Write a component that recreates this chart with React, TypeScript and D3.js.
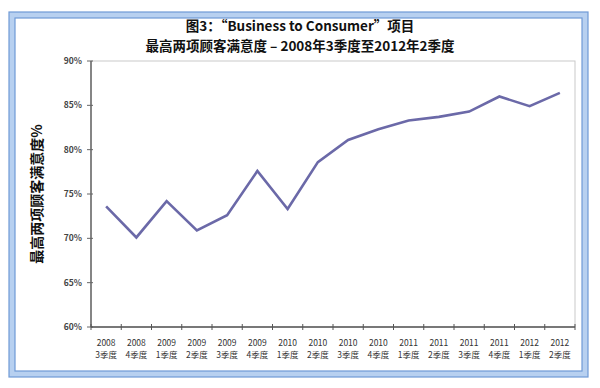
import React from 'react';
import * as d3 from 'd3';

// chart data
const years = ['2008', '2008', '2009', '2009', '2009', '2009', '2010', '2010', '2010', '2010', '2011', '2011', '2011', '2011', '2012', '2012'];
const quarters = ['3季度', '4季度', '1季度', '2季度', '3季度', '4季度', '1季度', '2季度', '3季度', '4季度', '1季度', '2季度', '3季度', '4季度', '1季度', '2季度'];
const satisfaction = [73.6, 70.1, 74.2, 70.9, 72.6, 77.6, 73.3, 78.6, 81.1, 82.3, 83.3, 83.7, 84.3, 86.0, 84.9, 86.4];
const yTicks = [60, 65, 70, 75, 80, 85, 90];

const titleLine1 = '图3：“Business to Consumer”项目';
const titleLine2 = '最高两项顾客满意度 – 2008年3季度至2012年2季度';
const yTitle = '最高两项顾客满意度%';

const W = 600;
const H = 388;
const margin = { top: 61, right: 25, bottom: 61, left: 91 };
const font = '"Noto Sans CJK SC", "Noto Sans", sans-serif';

const App = () => {
  const innerW = W - margin.left - margin.right;
  const innerH = H - margin.top - margin.bottom;

  const keys = years.map((y, i) => `${y}-${quarters[i]}-${i}`);
  const x = d3.scaleBand().domain(keys).range([0, innerW]);
  const y = d3.scaleLinear().domain([60, 90]).range([innerH, 0]);

  const line = d3.line<number>()
    .x((_, i) => (x(keys[i]) as number) + x.bandwidth() / 2)
    .y(d => y(d));

  // tick marks on the x axis sit between categories
  const xTickPos = d3.range(keys.length + 1).map(i => i * x.step());

  return (
    <div style={{ margin: -8 }}>
      <svg width={W} height={H} style={{ display: 'block', background: '#fff' }}>
        {/* blue frame */}
        <rect x={12} y={15} width={573} height={359} fill="none" stroke="#b7d0f0" strokeWidth={6} />
        <rect x={9} y={12} width={579} height={365} fill="none" stroke="#6f9ad6" strokeWidth={1.2} />
        <rect x={15} y={18} width={567} height={353} fill="none" stroke="#6f9ad6" strokeWidth={1.2} />

        {/* title */}
        <text x={W / 2} y={31} textAnchor="middle" fontFamily={font} fontWeight="bold" fontSize={13.5} fill="#111">{titleLine1}</text>
        <text x={W / 2} y={51} textAnchor="middle" fontFamily={font} fontWeight="bold" fontSize={13.5} fill="#111">{titleLine2}</text>

        {/* y axis title */}
        <text transform={`translate(42,${margin.top + innerH / 2}) rotate(-90)`} textAnchor="middle"
          fontFamily={font} fontWeight="bold" fontSize={14} fill="#111">{yTitle}</text>

        <g transform={`translate(${margin.left},${margin.top})`}>
          {/* plot area border */}
          <rect x={0} y={0} width={innerW} height={innerH} fill="none" stroke="#c9c9c9" strokeWidth={1} />

          {/* y axis */}
          <line x1={0} x2={0} y1={0} y2={innerH} stroke="#666" strokeWidth={1.5} />
          {yTicks.map(t => (
            <g key={t} transform={`translate(0,${y(t)})`}>
              <line x1={-4} x2={2} stroke="#666" strokeWidth={1} />
              <text x={-9} dy="0.35em" textAnchor="end" fontFamily={font} fontWeight="bold" fontSize={8.5} fill="#444">{t}%</text>
            </g>
          ))}

          {/* x axis */}
          <line x1={0} x2={innerW} y1={innerH} y2={innerH} stroke="#555" strokeWidth={1.5} />
          {xTickPos.map((p, i) => (
            <line key={i} x1={p} x2={p} y1={innerH - 3} y2={innerH + 3} stroke="#555" strokeWidth={1} />
          ))}
          {keys.map((k, i) => (
            <g key={k} transform={`translate(${(x(k) as number) + x.bandwidth() / 2},${innerH})`}>
              <text y={19} textAnchor="middle" fontFamily={font} fontSize={8.5} fill="#333">{years[i]}</text>
              <text y={31} textAnchor="middle" fontFamily={font} fontSize={8.5} fill="#333">{quarters[i]}</text>
            </g>
          ))}

          {/* series */}
          <path d={line(satisfaction) || ''} fill="none" stroke="#6b69a8" strokeWidth={2.6} strokeLinejoin="miter" />
        </g>
      </svg>
    </div>
  );
};

export default App;
